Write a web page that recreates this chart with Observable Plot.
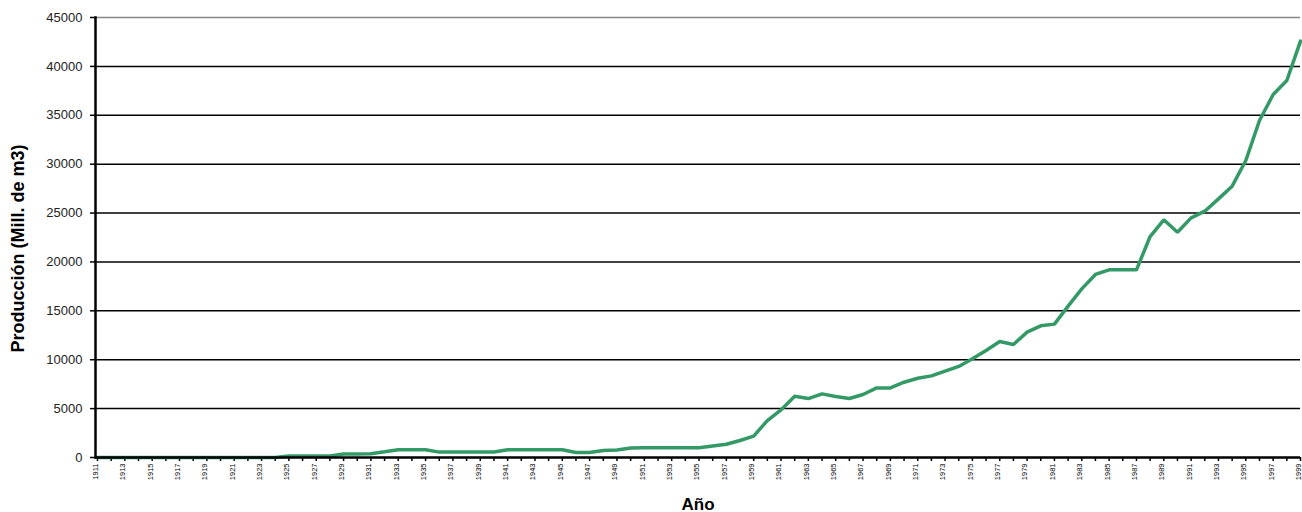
<!DOCTYPE html>
<html>
<head>
<meta charset="utf-8">
<script src="https://cdn.jsdelivr.net/npm/d3@7"></script>
<script src="https://cdn.jsdelivr.net/npm/@observablehq/plot@0.6"></script>
<style>
  html, body { margin: 0; padding: 0; background: #fff; }
  #chart svg { display: block; }
</style>
</head>
<body>
<div id="chart"></div>
<script>
const years = d3.range(1911, 2000);
const production = [
  0, 0, 0, 0, 0, 0, 0, 0, 0, 0, 0, 0, 0, 0,          // 1911-1924
  150, 150, 150, 150,                                // 1925-1928
  350, 350, 380, 580, 790, 790, 790,                 // 1929-1935
  550, 550, 550, 550, 560, 790, 790, 790, 790, 790,  // 1936-1945
  520, 520, 720, 760, 980, 1000, 1000, 1000, 1000, 1000, // 1946-1955
  1180, 1350, 1740, 2180, 3780, 4870, 6270, 6030, 6510, 6240, // 1956-1965
  6030, 6440, 7120, 7120, 7700, 8110, 8350, 8830, 9310, 10090, // 1966-1975
  10940, 11860, 11560, 12820, 13470, 13640, 15480, 17250, 18720, 19190, // 1976-1985
  19190, 19190, 22600, 24310, 23040, 24510, 25190, 26450, 27750, 30370, // 1986-1995
  34460, 37120, 38560, 42580                         // 1996-1999
];
const yTicks = d3.range(0, 45001, 5000);
const labelYears = d3.range(1911, 2000, 2);
const xTitle = "Año";
const yTitle = "Producción (Mill. de m3)";

const data = years.map((y, i) => ({year: y, value: production[i]}));

const chart = Plot.plot({
  width: 1302,
  height: 512,
  marginLeft: 95,
  marginRight: 2,
  marginTop: 17,
  marginBottom: 55,
  insetLeft: 2,
  style: {fontFamily: "'Liberation Sans', Arial, sans-serif", color: "#000", background: "#fff"},
  x: {domain: [1911, 1999], type: "linear"},
  y: {domain: [0, 45000]},
  marks: [
    Plot.ruleY(yTicks.filter(d => d > 0 && d < 45000), {stroke: "#000", strokeWidth: 1.5}),
    Plot.ruleY([45000], {stroke: "#888", strokeWidth: 1.5}),
    Plot.axisY({ticks: yTicks, tickSize: 5, tickPadding: 8, tickFormat: d => String(d), fontSize: 13, letterSpacing: 0.4, fill: "#222", label: null, stroke: "#000", strokeWidth: 1.5}),
    Plot.axisX({ticks: years, tickSize: 4, tickFormat: () => "", label: null, stroke: "#000", strokeWidth: 1.5}),
    Plot.axisX({ticks: labelYears, tickSize: 0, tickPadding: 6, tickRotate: -90, fontSize: 7.5, dx: -2, tickFormat: d => String(d), label: null}),
    Plot.line(data, {x: "year", y: "value", stroke: "#339966", strokeWidth: 3.5, strokeLinejoin: "miter"}),
    Plot.ruleY([0], {stroke: "#000", strokeWidth: 2.5}),
    Plot.frame({anchor: "left", stroke: "#000", strokeWidth: 2.5}),
    Plot.text([yTitle], {frameAnchor: "left", textAnchor: "middle", dx: -77, dy: 11, rotate: -90, fontSize: 18, letterSpacing: 1.1, fontWeight: "bold", fill: "#000"}),
    Plot.text([xTitle], {frameAnchor: "bottom", dy: 52, fontSize: 17, letterSpacing: 2.5, fontWeight: "bold", fill: "#000"})
  ]
});
document.getElementById("chart").appendChild(chart);
</script>
</body>
</html>
